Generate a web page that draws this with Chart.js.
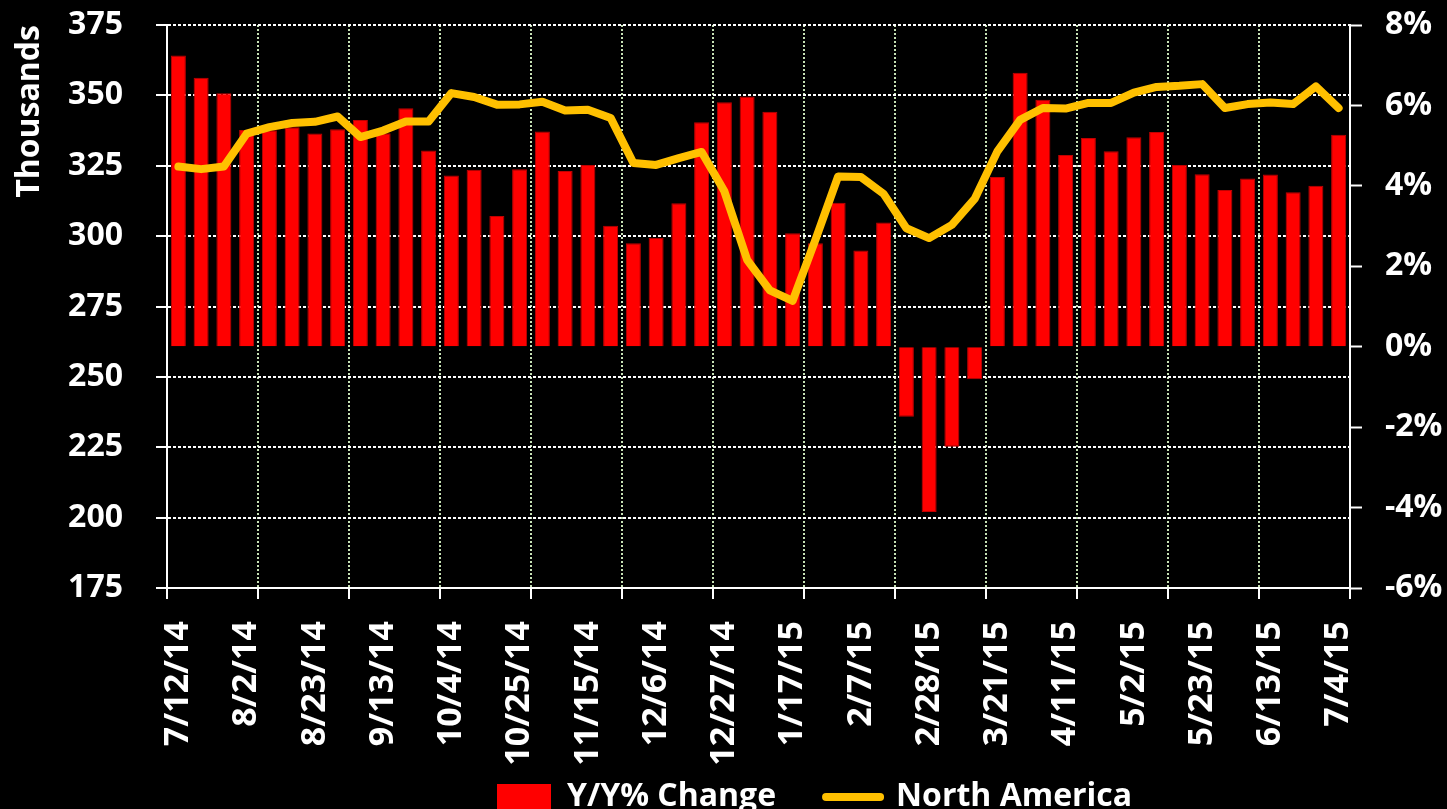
<!DOCTYPE html>
<html>
<head>
<meta charset="utf-8">
<script src="https://cdn.jsdelivr.net/npm/chart.js@4.4.1/dist/chart.umd.min.js"></script>
<style>
  html, body { margin: 0; padding: 0; background: #000; }
  canvas { display: block; }
</style>
</head>
<body>
<canvas id="chart" width="1447" height="809"></canvas>
<script>
const weeks = [
  '7/12/14', '7/19/14', '7/26/14', '8/2/14', '8/9/14', '8/16/14', '8/23/14', '8/30/14',
  '9/6/14', '9/13/14', '9/20/14', '9/27/14', '10/4/14', '10/11/14', '10/18/14', '10/25/14',
  '11/1/14', '11/8/14', '11/15/14', '11/22/14', '11/29/14', '12/6/14', '12/13/14', '12/20/14',
  '12/27/14', '1/3/15', '1/10/15', '1/17/15', '1/24/15', '1/31/15', '2/7/15', '2/14/15',
  '2/21/15', '2/28/15', '3/7/15', '3/14/15', '3/21/15', '3/28/15', '4/4/15', '4/11/15',
  '4/18/15', '4/25/15', '5/2/15', '5/9/15', '5/16/15', '5/23/15', '5/30/15', '6/6/15',
  '6/13/15', '6/20/15', '6/27/15', '7/4/15'
];

// Y/Y % change (right axis)
const yoyChange = [
  7.24, 6.69, 6.30, 5.39, 5.38, 5.46, 5.30, 5.41, 5.64, 5.31,
  5.93, 4.88, 4.26, 4.40, 3.25, 4.41, 5.35, 4.37, 4.52, 3.01,
  2.57, 2.71, 3.57, 5.58, 6.08, 6.22, 5.84, 2.82, 2.57, 3.58,
  2.39, 3.09, -1.74, -4.11, -2.49, -0.81, 4.22, 6.81, 6.14, 4.77,
  5.19, 4.86, 5.21, 5.34, 4.52, 4.29, 3.90, 4.18, 4.28, 3.84,
  4.00, 5.27
];

// North America, thousands (left axis)
const northAmerica = [
  324.7, 323.8, 324.7, 336.4, 338.7, 340.2, 340.6, 342.5, 335.2, 337.5,
  340.7, 340.7, 350.8, 349.4, 346.7, 346.8, 347.7, 344.6, 344.9, 342.0,
  326.0, 325.3, 327.7, 329.9, 315.9, 291.6, 280.7, 277.0, 298.7, 321.2,
  321.0, 315.0, 302.8, 299.3, 304.0, 313.2, 330.1, 341.3, 345.5, 345.3,
  347.3, 347.3, 351.0, 353.0, 353.4, 354.0, 345.5, 346.9, 347.5, 346.9,
  353.2, 345.5
];

const leftMin = 175, leftMax = 375, leftStep = 25;
const rightMin = -6, rightMax = 8, rightStep = 2;

const labelEvery = 3;   // a date label every 3 weeks
const gridEvery = 4;    // a vertical gridline every 4 weeks

Chart.defaults.color = '#ffffff';
Chart.defaults.font.family = '"Open Sans", sans-serif';
Chart.defaults.font.weight = 'bold';
Chart.defaults.font.size = 32;

// legend: keep it short in the layout, then put it where the original sits
const legendPlace = {
  id: 'legendPlace',
  beforeLayout(chart) {
    const lg = chart.legend;
    if (lg && !lg.$fitPatched) {
      const fit = lg.fit;
      lg.fit = function () { fit.call(this); this.height = 31; };
      lg.$fitPatched = true;
    }
  },
  afterLayout(chart) {
    const lg = chart.legend;
    const pad = lg.options.labels.padding;
    lg.left = 497 - pad;
    lg.right = chart.width;
    lg.top = 797 - 16 - pad;
    lg.bottom = chart.height;
  }
};

function noEdgePadding(scale) {
  scale.paddingTop = 0;
  scale.paddingBottom = 0;
}

new Chart(document.getElementById('chart'), {
  type: 'bar',
  plugins: [legendPlace],
  data: {
    labels: weeks,
    datasets: [
      {
        type: 'bar',
        label: 'Y/Y% Change',
        data: yoyChange,
        yAxisID: 'y1',
        backgroundColor: '#ff0000',
        borderColor: '#c00000',
        borderWidth: 1,
        barPercentage: 0.66,
        categoryPercentage: 1,
        order: 2
      },
      {
        type: 'line',
        label: 'North America',
        data: northAmerica,
        yAxisID: 'y',
        borderColor: '#ffc000',
        backgroundColor: '#ffc000',
        borderWidth: 8,
        borderJoinStyle: 'round',
        borderCapStyle: 'round',
        pointRadius: 0,
        tension: 0,
        order: 1
      }
    ]
  },
  options: {
    responsive: false,
    animation: false,
    devicePixelRatio: 1,
    layout: { padding: { top: 25, left: 0, right: 0, bottom: 0 } },
    plugins: {
      tooltip: { enabled: false },
      legend: {
        position: 'bottom',
        align: 'start',
        labels: {
          color: '#ffffff',
          font: { size: 32, weight: 'bold' },
          usePointStyle: true,
          pointStyleWidth: 54,
          boxHeight: 26,
          padding: 50,
          sort: (a, b) => a.datasetIndex - b.datasetIndex,
          generateLabels(chart) {
            const items = Chart.defaults.plugins.legend.labels.generateLabels(chart);
            items.forEach(it => {
              if (it.datasetIndex === 0) {
                it.pointStyle = 'rect';
                it.lineWidth = 0;
                it.fillStyle = '#ff0000';
              } else {
                it.pointStyle = 'line';
                it.lineWidth = 8;
                it.strokeStyle = '#ffc000';
                it.lineCap = 'round';
              }
            });
            return items;
          }
        }
      }
    },
    scales: {
      x: {
        offset: true,
        afterFit(scale) { scale.height = 190; },
        border: { display: true, color: '#ffffff', width: 2, dash: [2, 2] },
        grid: {
          offset: true,
          lineWidth: 2,
          color: ctx => (ctx.type === 'tick' && ctx.index > 0 && ctx.index % gridEvery === 0) ? '#c6e0b4' : 'rgba(0,0,0,0)',
          tickColor: ctx => (ctx.type !== 'tick' || ctx.index % gridEvery === 0) ? '#ffffff' : 'rgba(0,0,0,0)',
          tickLength: 11,
          tickWidth: 2,
          tickBorderDash: []
        },
        ticks: {
          autoSkip: false,
          maxRotation: 90,
          minRotation: 90,
          padding: 22,
          font: { size: 34, weight: 'bold' },
          color: '#ffffff',
          callback(value, index) {
            return index % labelEvery === 0 ? this.getLabelForValue(value) : '';
          }
        }
      },
      y: {
        position: 'left',
        min: leftMin,
        max: leftMax,
        afterFit(scale) { scale.width = 167; noEdgePadding(scale); },
        border: { display: true, color: '#ffffff', width: 2, dash: [3, 2] },
        grid: {
          color: '#ffffff',
          lineWidth: 2,
          tickColor: '#ffffff',
          tickLength: 11,
          tickWidth: 2,
          tickBorderDash: []
        },
        ticks: {
          stepSize: leftStep,
          padding: 33,
          color: '#ffffff',
          font: { size: 32, weight: 'bold' }
        },
        title: {
          display: true,
          text: 'Thousands',
          align: 'end',
          color: '#ffffff',
          font: { size: 32, weight: 'bold' },
          padding: { top: 11, bottom: 0 }
        }
      },
      y1: {
        position: 'right',
        min: rightMin,
        max: rightMax,
        afterFit(scale) { scale.width = 97; noEdgePadding(scale); },
        border: { display: true, color: '#ffffff', width: 2 },
        grid: {
          drawOnChartArea: false,
          tickColor: '#ffffff',
          tickLength: 12,
          tickWidth: 2,
          tickBorderDash: []
        },
        ticks: {
          stepSize: rightStep,
          padding: 23,
          color: '#ffffff',
          font: { size: 32, weight: 'bold' },
          callback: v => v + '%'
        }
      }
    }
  }
});
</script>
</body>
</html>
